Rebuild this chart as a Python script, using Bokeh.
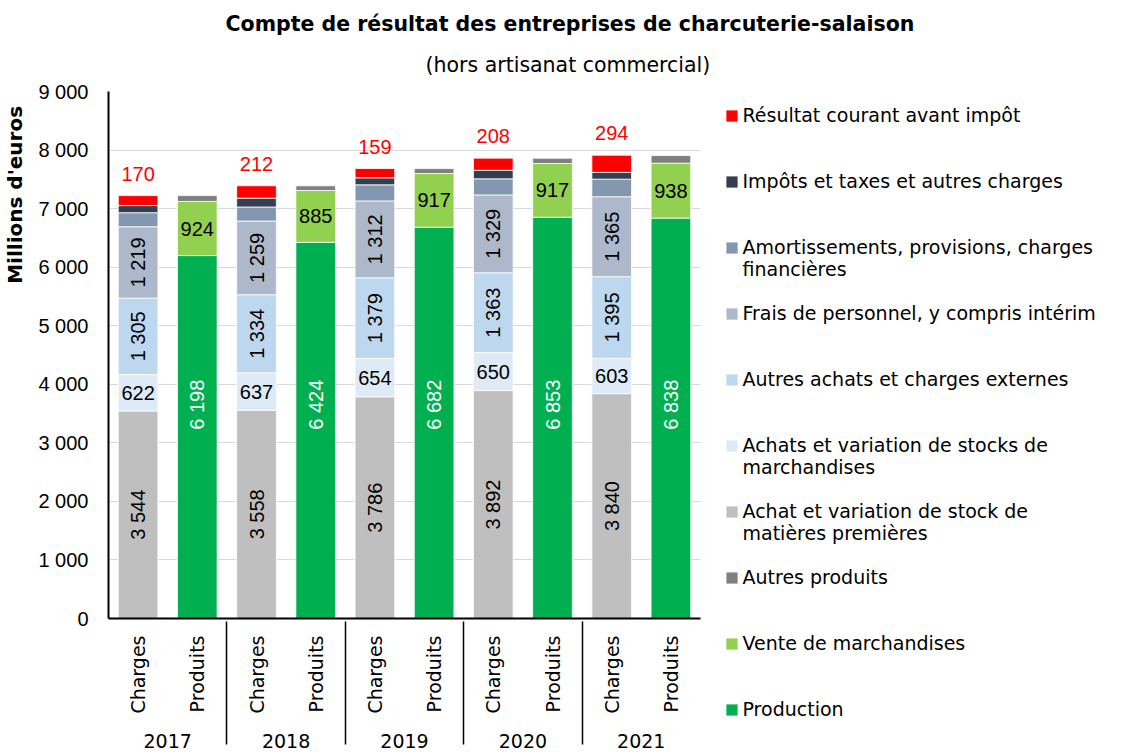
import math
from bokeh.plotting import figure
from bokeh.models import (FactorRange, ColumnDataSource, Range1d, FixedTicker,
                          Legend, LegendItem, Title)
from bokeh.core.properties import value
from bokeh.embed import file_html
from bokeh.resources import INLINE

YEARS = ["2017", "2018", "2019", "2020", "2021"]
KINDS = ["Charges", "Produits"]

# Charges (bottom to top)
ACHAT_MP = [3544, 3558, 3786, 3892, 3840]
ACHATS_MARCH = [622, 637, 654, 650, 603]
AUTRES_ACHATS = [1305, 1334, 1379, 1363, 1395]
FRAIS_PERSO = [1219, 1259, 1312, 1329, 1365]
AMORT = [240, 240, 275, 275, 300]
IMPOTS = [122, 150, 120, 145, 115]
RESULTAT = [170, 212, 159, 208, 294]
# Produits (bottom to top)
PRODUCTION = [6198, 6424, 6682, 6853, 6838]
VENTE = [924, 885, 917, 917, 938]
AUTRES_PROD = [100, 80, 85, 90, 130]

Y_TICKS = [0, 1000, 2000, 3000, 4000, 5000, 6000, 7000, 8000, 9000]
TICK_LABELS = ["0", "1 000", "2 000", "3 000", "4 000", "5 000", "6 000", "7 000", "8 000", "9 000"]

TITLE = "Compte de résultat des entreprises de charcuterie-salaison"
SUBTITLE = "(hors artisanat commercial)"
Y_LABEL = "Millions d'euros"

CH_KEYS = ["achat_mp", "achats_march", "autres_achats", "frais_perso", "amort", "impots", "resultat"]
CH_NAMES = [["Achat et variation de stock de", "matières premières"],
            ["Achats et variation de stocks de", "marchandises"],
            ["Autres achats et charges externes"],
            ["Frais de personnel, y compris intérim"],
            ["Amortissements, provisions, charges", "financières"],
            ["Impôts et taxes et autres charges"],
            ["Résultat courant avant impôt"]]
CH_COLORS = ["#BFBFBF", "#DEEBF7", "#BDD7EE", "#ADB9CA", "#8497B0", "#333F50", "#FF0000"]
PR_KEYS = ["production", "vente", "autres_prod"]
PR_NAMES = [["Production"], ["Vente de marchandises"], ["Autres produits"]]
PR_COLORS = ["#00B050", "#92D050", "#808080"]

FONT = "DejaVu Sans"

ch_src = ColumnDataSource(dict(
    x=[(y, "Charges") for y in YEARS],
    achat_mp=ACHAT_MP, achats_march=ACHATS_MARCH, autres_achats=AUTRES_ACHATS,
    frais_perso=FRAIS_PERSO, amort=AMORT, impots=IMPOTS, resultat=RESULTAT))
pr_src = ColumnDataSource(dict(
    x=[(y, "Produits") for y in YEARS],
    production=PRODUCTION, vente=VENTE, autres_prod=AUTRES_PROD))

x_range = FactorRange(*[(y, k) for y in YEARS for k in KINDS],
                      factor_padding=0, group_padding=0, range_padding=0)

p = figure(x_range=x_range, y_range=Range1d(0, 9000),
           frame_width=592, frame_height=527,
           min_border_left=108, min_border_right=423, min_border_top=91, min_border_bottom=135,
           output_backend="svg", toolbar_location=None)
p.outline_line_color = None
p.background_fill_color = "white"

ch_r = p.vbar_stack(CH_KEYS, x="x", width=0.67, source=ch_src, color=CH_COLORS,
                    line_color="white", line_width=0.8)
pr_r = p.vbar_stack(PR_KEYS, x="x", width=0.67, source=pr_src, color=PR_COLORS,
                    line_color="white", line_width=0.8)
blank_r = p.vbar(x=[], top=[], width=0.5, fill_alpha=0, line_alpha=0)

# y axis
ya = p.yaxis[0]
ya.ticker = FixedTicker(ticks=Y_TICKS)
ya.major_label_overrides = {t: l for t, l in zip(Y_TICKS, TICK_LABELS)}
ya.axis_line_color = "black"
ya.axis_line_width = 2
ya.major_tick_line_color = None
ya.major_tick_out = 0
ya.major_tick_in = 0
ya.minor_tick_line_color = None
ya.minor_tick_out = 0
ya.major_label_standoff = 20
ya.major_label_text_font = "Liberation Sans"
ya.major_label_text_font_size = "20px"
ya.major_label_text_color = "black"
# label sits in the upper part of the axis, as in the reference (padded with no-break spaces)
ya.axis_label = "\u00a0" * 46 + Y_LABEL
ya.axis_label_text_font = FONT
ya.axis_label_text_font_style = "bold"
ya.axis_label_text_font_size = "20px"
ya.axis_label_text_color = "black"
ya.axis_label_standoff = 8
p.ygrid.grid_line_color = "#D9D9D9"
p.ygrid.grid_line_width = 1
p.xgrid.grid_line_color = None

# x axis
xa = p.xaxis[0]
xa.axis_line_color = "black"
xa.axis_line_width = 2
xa.major_tick_line_color = None
xa.major_tick_out = 0
xa.major_tick_in = 0
xa.minor_tick_line_color = None
xa.major_label_orientation = math.pi / 2
xa.major_label_text_font = FONT
xa.major_label_text_font_size = "19px"
xa.major_label_text_color = "black"
xa.major_label_standoff = 17
xa.group_text_font = FONT
xa.group_text_font_size = "19px"
xa.group_text_font_style = "normal"
xa.group_text_color = "black"
xa.separator_line_color = "black"
xa.separator_line_width = 1.5


def stack_mid(series_list, idx):
    base = [0] * len(YEARS)
    for s in series_list[:idx]:
        base = [b + v for b, v in zip(base, s)]
    return [b + v / 2 for b, v in zip(base, series_list[idx])]


def fmt(v):
    return f"{v:,}".replace(",", " ")


ch_series = [ACHAT_MP, ACHATS_MARCH, AUTRES_ACHATS, FRAIS_PERSO, AMORT, IMPOTS, RESULTAT]
pr_series = [PRODUCTION, VENTE, AUTRES_PROD]

lbl_font = value("Liberation Sans")
xs_c = [(y, "Charges") for y in YEARS]
xs_p = [(y, "Produits") for y in YEARS]

for idx in (0, 2, 3):
    src = ColumnDataSource(dict(x=xs_c, y=stack_mid(ch_series, idx),
                                t=[fmt(v) for v in ch_series[idx]]))
    p.text(x="x", y="y", text="t", source=src, angle=math.pi / 2, text_align="center",
           text_baseline="middle", text_font=lbl_font, text_font_size="20px", text_color="black")
src = ColumnDataSource(dict(x=xs_c, y=stack_mid(ch_series, 1), t=[fmt(v) for v in ACHATS_MARCH]))
p.text(x="x", y="y", text="t", source=src, text_align="center", text_baseline="middle",
       text_font=lbl_font, text_font_size="20px", text_color="black")
tot_c = [sum(v) for v in zip(*ch_series)]
src = ColumnDataSource(dict(x=xs_c, y=tot_c, t=[fmt(v) for v in RESULTAT]))
p.text(x="x", y="y", text="t", source=src, text_align="center", text_baseline="bottom",
       y_offset=-15, text_font=lbl_font, text_font_size="20px", text_color="#FF0000")
PROD_LABEL_Y = 3650
src = ColumnDataSource(dict(x=xs_p, y=[PROD_LABEL_Y] * len(YEARS), t=[fmt(v) for v in PRODUCTION]))
p.text(x="x", y="y", text="t", source=src, angle=math.pi / 2, text_align="center",
       text_baseline="middle", text_font=lbl_font, text_font_size="20px", text_color="white")
src = ColumnDataSource(dict(x=xs_p, y=stack_mid(pr_series, 1), t=[fmt(v) for v in VENTE]))
p.text(x="x", y="y", text="t", source=src, text_align="center", text_baseline="middle",
       text_font=lbl_font, text_font_size="20px", text_color="black")

# titles
p.add_layout(Title(text=SUBTITLE, align="left", offset=317,
                   text_font=FONT, text_font_size="20.5px", text_font_style="normal",
                   text_color="black", standoff=30), "above")
p.add_layout(Title(text=TITLE, align="left", offset=117, text_font=FONT,
                   text_font_size="20.5px", text_font_style="bold", text_color="black",
                   standoff=0), "above")

# legend: three rows per entry (first line, second line or blank, spacer)
order = [(ch_r[6], CH_NAMES[6]), (ch_r[5], CH_NAMES[5]), (ch_r[4], CH_NAMES[4]),
         (ch_r[3], CH_NAMES[3]), (ch_r[2], CH_NAMES[2]), (ch_r[1], CH_NAMES[1]),
         (ch_r[0], CH_NAMES[0]), (pr_r[2], PR_NAMES[2]), (pr_r[1], PR_NAMES[1]),
         (pr_r[0], PR_NAMES[0])]
items = []
for i, (r, lines) in enumerate(order):
    items.append(LegendItem(label=lines[0], renderers=[r]))
    if i < len(order) - 1:
        items.append(LegendItem(label=lines[1] if len(lines) > 1 else " ", renderers=[blank_r]))
        items.append(LegendItem(label=" ", renderers=[blank_r]))
ROW_H = 22
n_rows = len(items)
leg_h = n_rows * ROW_H
leg_top = 104 - 91  # below frame top
leg = Legend(items=items, location=(23.5, 527 - leg_top - leg_h), padding=0, margin=0,
             spacing=0, border_line_color=None, background_fill_alpha=0,
             glyph_width=15, glyph_height=15, label_standoff=4, label_height=ROW_H,
             label_text_font=FONT, label_text_font_size="19px",
             label_text_color="black")
p.add_layout(leg, "right")

open("out.html", "w").write(file_html(p, INLINE))
